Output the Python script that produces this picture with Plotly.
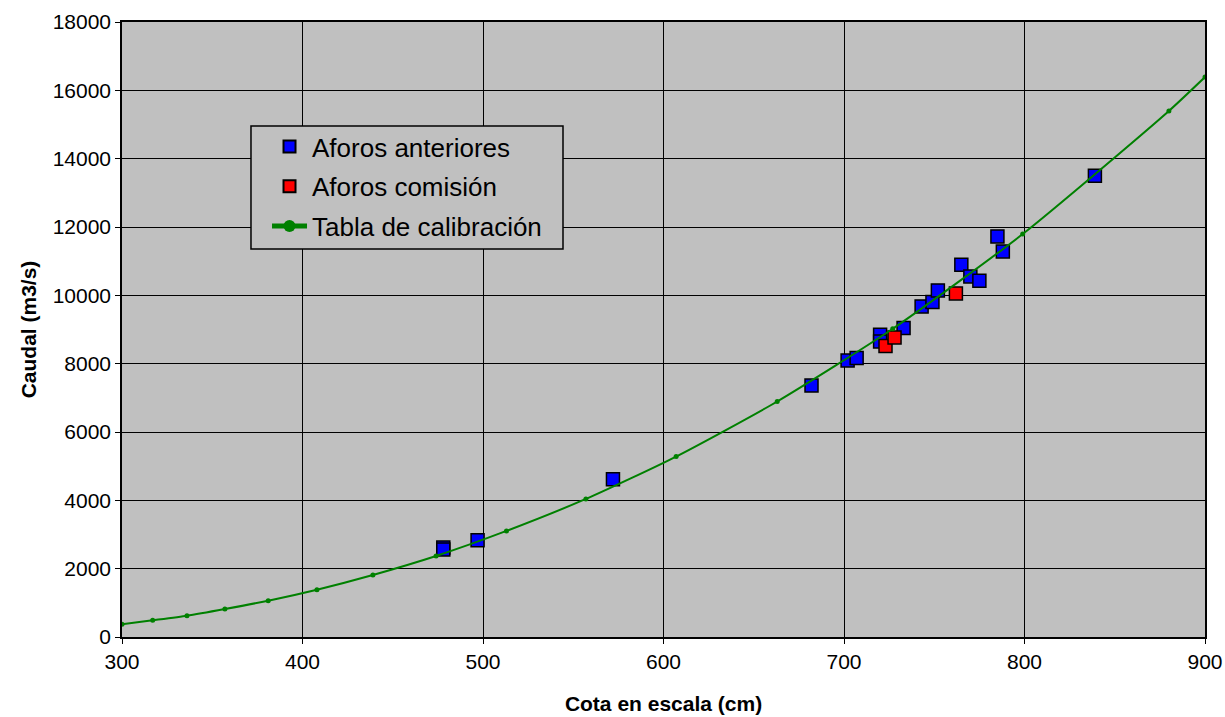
import plotly.graph_objects as go

# Tabla de calibración
cal_x = [300, 317, 336, 357, 381, 408, 439, 474, 513, 557, 607, 663, 727, 799, 880, 900]
cal_y = [372, 489, 624, 820, 1063, 1385, 1816, 2372, 3105, 4042, 5282, 6893, 9021, 11795, 15398, 16390]

# Aforos anteriores
ant_x = [478, 478, 497, 572, 682, 702, 707, 720, 720, 733, 743, 749, 752, 765, 770, 775, 785, 788, 839]
ant_y = [2620, 2560, 2832, 4619, 7362, 8094, 8163, 8846, 8650, 9041, 9676, 9803, 10144, 10896, 10554, 10427, 11725, 11286, 13503]

# Aforos comisión
com_x = [723, 728, 762]
com_y = [8514, 8768, 10057]

FONT = "Liberation Sans, Arial, sans-serif"

fig = go.Figure()
fig.add_trace(go.Scatter(
    x=ant_x, y=ant_y, mode="markers", name="Aforos anteriores", legendgroup="a",
    marker=dict(symbol="square", size=13, color="#0000FF", line=dict(color="black", width=1.5)),
))
fig.add_trace(go.Scatter(
    x=com_x, y=com_y, mode="markers", name="Aforos comisión", legendgroup="b",
    marker=dict(symbol="square", size=13, color="#FF0000", line=dict(color="black", width=1.5)),
))
fig.add_trace(go.Scatter(
    x=cal_x, y=cal_y, mode="lines+markers", name="Tabla de calibración", legendgroup="c",
    line=dict(color="#008000", width=2, shape="spline", smoothing=0.6),
    marker=dict(symbol="circle", size=5, color="#008000"),
))

# legend frame
fig.add_shape(
    type="rect", xref="paper", yref="paper",
    x0=0.1191, x1=0.4072, y0=0.6309, y1=0.8309,
    fillcolor="#C0C0C0", line=dict(color="black", width=1.5), layer="above",
)

fig.update_layout(
    width=1225, height=717,
    margin=dict(l=122, r=20, t=22, b=80, autoexpand=False),
    paper_bgcolor="white", plot_bgcolor="#C0C0C0",
    font=dict(family=FONT, color="black", size=21),
    showlegend=True,
    legend=dict(
        x=0.1339, y=0.8358, xanchor="left", yanchor="top",
        bgcolor="rgba(0,0,0,0)", borderwidth=0,
        font=dict(family=FONT, size=26, color="black"),
        itemsizing="constant", tracegroupgap=3, itemwidth=35,
    ),
    xaxis=dict(
        range=[300, 900], dtick=100, tick0=300, automargin=False,
        showgrid=True, gridcolor="black", gridwidth=1,
        zeroline=False, showline=True, linecolor="black", linewidth=1.5, mirror=True,
        ticks="outside", ticklen=5, tickcolor="black",
        tickfont=dict(family=FONT, size=21),
        title=dict(text="<b>Cota en escala (cm)</b>", font=dict(family=FONT, size=21), standoff=24),
    ),
    yaxis=dict(
        range=[0, 18000], dtick=2000, tickformat="d", automargin=False,
        showgrid=True, gridcolor="black", gridwidth=1,
        zeroline=False, showline=True, linecolor="black", linewidth=1.5, mirror=True,
        ticks="outside", ticklen=5, tickcolor="black",
        tickfont=dict(family=FONT, size=21),
        title=dict(text="<b>Caudal (m3/s)</b>", font=dict(family=FONT, size=21), standoff=10),
    ),
)

# remove the default 8px page margin so the figure fills the window exactly
fig.write_html(
    "out.html",
    config={"displayModeBar": False},
    post_script="document.body.style.margin='0';document.body.style.overflow='hidden';",
)
